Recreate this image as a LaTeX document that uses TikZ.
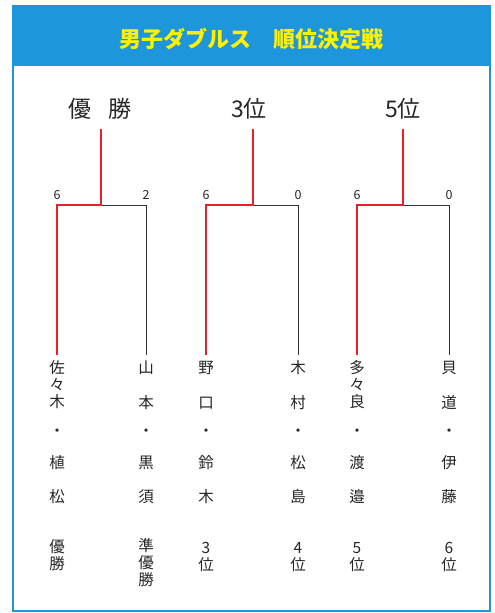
\documentclass[tikz,border=0pt]{standalone}
\usepackage{fontspec}
\newfontfamily\jp{Noto Sans CJK JP}
\definecolor{frameblue}{HTML}{1E96DC}
\definecolor{titleyellow}{HTML}{FFF100}
\definecolor{winred}{HTML}{E8202A}
\definecolor{losegray}{HTML}{333333}
\tikzset{
  ch/.style={font=\jp\fontsize{15.5}{15.5}\selectfont, inner sep=0pt, text=black!85},
  rk/.style={font=\jp\fontsize{15.5}{15.5}\selectfont, inner sep=0pt, text=black!85},
  score/.style={font=\jp\fontsize{12.5}{12.5}\selectfont, inner sep=0pt, text=black!85},
  head/.style={font=\jp\fontsize{23}{23}\selectfont, inner sep=0pt, text=black!85},
  win/.style={draw=winred, line width=2.6pt},
  lose/.style={draw=losegray, line width=0.9pt},
}
\begin{document}
\begin{tikzpicture}[x=1pt,y=-1pt]
\useasboundingbox (0,0) rectangle (495,613);
\fill[white] (0,0) rectangle (495,613);
% frame and header
\fill[frameblue] (13,6) rectangle (490,66);
\draw[frameblue, line width=2.5pt] (13,6) rectangle (490,611);
\node[font=\jp\bfseries\fontsize{22}{22}\selectfont, text=titleyellow, inner sep=0pt] (title) at (251,39) {男子ダブルス　順位決定戦};
% top labels
\node[head] (h1) at (100,109) {優\hspace{0.75em}勝};
\node[head] (h2) at (249,109) {3位};
\node[head] (h3) at (403,109) {5位};
% bracket coordinates
\foreach \i/\l/\j/\r in {1/57/101/146, 2/206/253/298, 3/357/403/449}{
  \coordinate (top\i) at (\j,129);
  \coordinate (j\i) at (\j,205);
  \coordinate (a\i) at (\l,355);
  \coordinate (b\i) at (\r,355);
}
\foreach \i in {1,2,3}{
  \draw[lose] (j\i) -| (b\i);
  \draw[win] (top\i) -- (j\i) -| (a\i);
}
% scores
\node[score] (s1a) at (57,195) {6};
\node[score] (s1b) at (146,195) {2};
\node[score] (s2a) at (206,195) {6};
\node[score] (s2b) at (298,195) {0};
\node[score] (s3a) at (357,195) {6};
\node[score] (s3b) at (449,195) {0};
% names (vertical)
% column 1
\node[ch] (n1a) at (57,368) {佐};
\node[ch] (n1b) at (57,385) {々};
\node[ch] (n1c) at (57,402) {木};
\node[ch] (n1d) at (57,433) {・};
\node[ch] (n1e) at (57,463) {植};
\node[ch] (n1f) at (57,497) {松};
\node[rk] (r1a) at (57,547) {優};
\node[rk] (r1b) at (57,564) {勝};
% column 2
\node[ch] (n2a) at (146,368) {山};
\node[ch] (n2b) at (146,403) {本};
\node[ch] (n2c) at (146,433) {・};
\node[ch] (n2d) at (146,463) {黒};
\node[ch] (n2e) at (146,497) {須};
\node[rk] (r2a) at (146,546) {準};
\node[rk] (r2b) at (146,563) {優};
\node[rk] (r2c) at (146,580) {勝};
% column 3
\node[ch] (n3a) at (206,368) {野};
\node[ch] (n3b) at (206,403) {口};
\node[ch] (n3c) at (206,433) {・};
\node[ch] (n3d) at (206,463) {鈴};
\node[ch] (n3e) at (206,497) {木};
\node[rk] (r3a) at (206,548) {3};
\node[rk] (r3b) at (206,565) {位};
% column 4
\node[ch] (n4a) at (298,368) {木};
\node[ch] (n4b) at (298,403) {村};
\node[ch] (n4c) at (298,433) {・};
\node[ch] (n4d) at (298,463) {松};
\node[ch] (n4e) at (298,497) {島};
\node[rk] (r4a) at (298,548) {4};
\node[rk] (r4b) at (298,565) {位};
% column 5
\node[ch] (n5a) at (357,368) {多};
\node[ch] (n5b) at (357,385) {々};
\node[ch] (n5c) at (357,402) {良};
\node[ch] (n5d) at (357,433) {・};
\node[ch] (n5e) at (357,463) {渡};
\node[ch] (n5f) at (357,497) {邉};
\node[rk] (r5a) at (357,548) {5};
\node[rk] (r5b) at (357,565) {位};
% column 6
\node[ch] (n6a) at (449,368) {貝};
\node[ch] (n6b) at (449,403) {道};
\node[ch] (n6c) at (449,433) {・};
\node[ch] (n6d) at (449,463) {伊};
\node[ch] (n6e) at (449,497) {藤};
\node[rk] (r6a) at (449,548) {6};
\node[rk] (r6b) at (449,565) {位};
\end{tikzpicture}
\end{document}
